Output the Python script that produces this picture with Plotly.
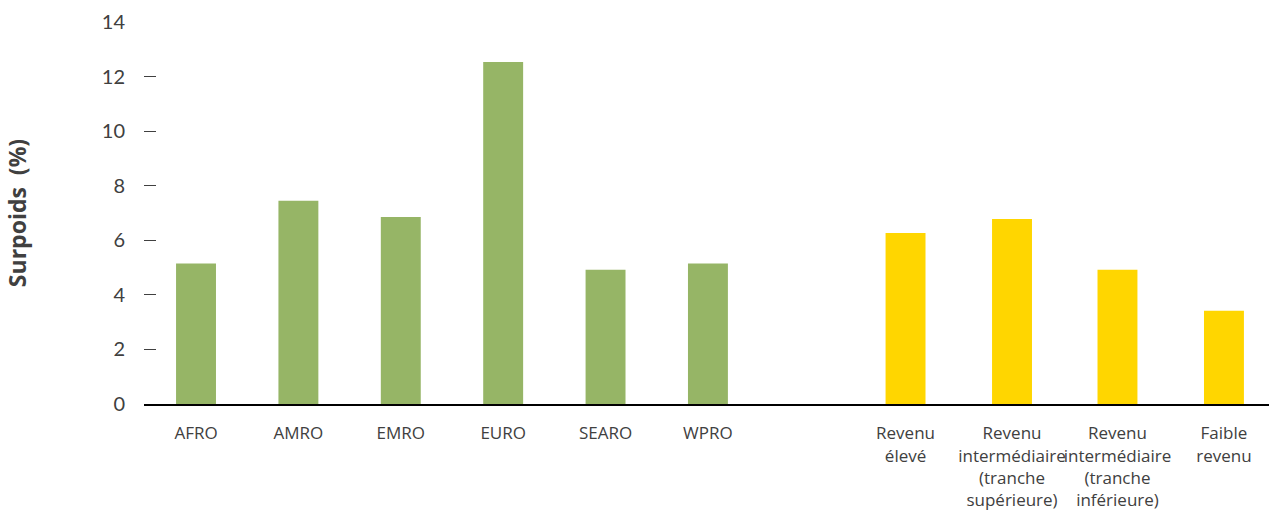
import plotly.graph_objects as go

regions = ["AFRO", "AMRO", "EMRO", "EURO", "SEARO", "WPRO"]
region_values = [5.15, 7.45, 6.85, 12.53, 4.92, 5.15]

income = ["Revenu<br>élevé", "Revenu<br>intermédiaire<br>(tranche<br>supérieure)",
          "Revenu<br>intermédiaire<br>(tranche<br>inférieure)", "Faible<br>revenu"]
income_values = [6.27, 6.78, 4.92, 3.42]

y_ticks = [0, 2, 4, 6, 8, 10, 12, 14]

# layout positions (not data)
x_regions = list(range(len(regions)))
x_income = [6.93, 7.97, 9.0, 10.04]

GREEN = "#96b566"
YELLOW = "#ffd600"
TXT = "#404040"

fig = go.Figure()
fig.add_trace(go.Bar(x=x_regions, y=region_values, marker_color=GREEN, width=0.39,
                     marker_line_width=0, hoverinfo="skip"))
fig.add_trace(go.Bar(x=x_income, y=income_values, marker_color=YELLOW, width=0.39,
                     marker_line_width=0, hoverinfo="skip"))

fig.update_layout(
    width=1269, height=512,
    margin=dict(l=144, r=0, t=22, b=108),
    plot_bgcolor="white", paper_bgcolor="white",
    showlegend=False,
    font=dict(family="Lato, sans-serif", size=18, color=TXT),
    xaxis=dict(range=[-0.508, 10.48], tickvals=x_regions + x_income,
               ticktext=regions + income, showgrid=False, zeroline=False,
               showline=True, linecolor="black", linewidth=2, ticks="",
               tickangle=0, automargin=False,
               ticklabelstandoff=13,
               tickfont=dict(family="Open Sans, sans-serif", size=17, color=TXT)),
    yaxis=dict(range=[0, 14], tickvals=y_ticks, showgrid=False, zeroline=False,
               showline=False, ticks="inside", ticklen=12, tickcolor=TXT, tickwidth=1,
               automargin=False,
               ticklabelstandoff=18, tickfont=dict(size=20, color=TXT),
               title=dict(text="Surpoids  (%)", standoff=68,
                          font=dict(family="Open Sans, sans-serif", size=23, color=TXT, weight="bold"))),
)

fig.write_html("out.html")
